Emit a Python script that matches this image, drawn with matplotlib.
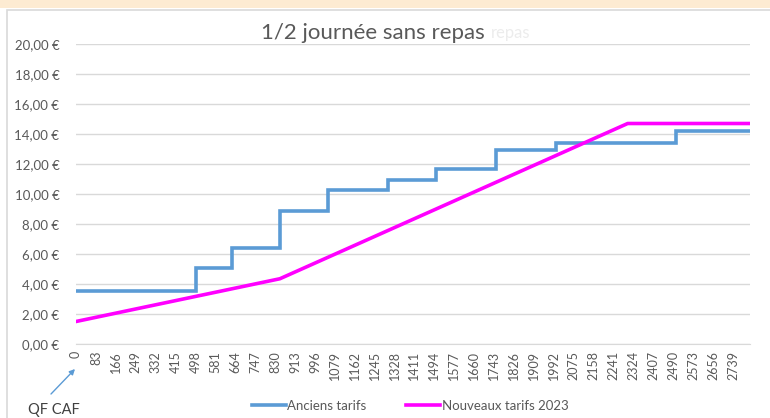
import numpy as np
import matplotlib
matplotlib.use("Agg")
import matplotlib.pyplot as plt
from matplotlib.patches import Rectangle

# Tarifs 1/2 journée sans repas selon le quotient familial CAF

# Anciens tarifs : paliers (seuil QF -> tarif)
qf_anciens = [0, 500, 650, 850, 1050, 1300, 1500, 1750, 2000, 2500, 2810]
tarifs_anciens = [3.55, 5.05, 6.40, 8.90, 10.25, 10.95, 11.65, 12.95, 13.40, 14.20, 14.20]

# Nouveaux tarifs 2023 : lineaire par morceaux
qf_nouveaux = [0, 850, 2300, 2810]
tarifs_nouveaux = [1.50, 4.35, 14.70, 14.70]

x_ticks = list(range(0, 2740, 83))
y_ticks = [0, 2, 4, 6, 8, 10, 12, 14, 16, 18, 20]

plt.rcParams['font.family'] = ['Lato', 'DejaVu Sans']
txt_color = "#595959"

W, H = 770, 418
fig = plt.figure(figsize=(W / 100, H / 100), dpi=100)

# bandeau beige en haut + cadre du graphique
fig.patches.append(Rectangle((0, 1 - 8 / H), 1, 8 / H, transform=fig.transFigure,
                             facecolor="#fdebd2", edgecolor="none", zorder=-3))
fig.patches.append(Rectangle((7 / W, -0.1), 1.2, 1.1 - 10 / H, transform=fig.transFigure,
                             facecolor="white", edgecolor="#d9d9d9", lw=1.2, zorder=-2))

ax = fig.add_axes([76 / W, 1 - 344 / H, (750 - 76) / W, 300 / H])

ax.plot(qf_anciens, tarifs_anciens, drawstyle="steps-post", color="#5b9bd5",
        lw=2.6, label="Anciens tarifs", solid_joinstyle="miter")
ax.plot(qf_nouveaux, tarifs_nouveaux, color="#ff00ff", lw=2.6,
        label="Nouveaux tarifs 2023")

ax.set_xlim(0, 2810)
ax.set_ylim(0, 20)
ax.set_yticks(y_ticks)
ax.set_yticklabels([f"{v:.2f} €".replace(".", ",") for v in y_ticks],
                   fontsize=9.5, color=txt_color)
ax.set_xticks(x_ticks)
ax.set_xticklabels([str(v) for v in x_ticks], rotation=90, fontsize=9,
                   color=txt_color)
ax.tick_params(length=0)
ax.tick_params(axis="y", pad=12)
ax.tick_params(axis="x", pad=5)
ax.grid(axis="y", color="#d9d9d9", lw=1)
ax.set_axisbelow(True)
for s in ["top", "right", "left"]:
    ax.spines[s].set_visible(False)
ax.spines["bottom"].set_color("#d9d9d9")

# titre (avec reste fantome "repas")
fig.text(373 / W, 1 - 33 / H, "1/2 journée sans repas", ha="center", va="center",
         fontsize=16, color=txt_color,
         bbox=dict(facecolor="white", edgecolor="none", pad=1))
fig.text(491 / W, 1 - 33 / H, "repas", ha="left", va="center",
         fontsize=12, color="#ececec")

# annotation QF CAF
fig.text(54 / W, 1 - 410 / H, "QF CAF", ha="center", va="center",
         fontsize=10.5, color="#404040")
ax.annotate("", xy=(75 / W, 1 - 369 / H), xycoords="figure fraction",
            xytext=(51 / W, 1 - 394 / H), textcoords="figure fraction",
            arrowprops=dict(arrowstyle="-|>", color="#5b9bd5", lw=1,
                            shrinkA=0, shrinkB=0, mutation_scale=8))

fig.legend(loc="center", bbox_to_anchor=(410 / W, 1 - 406 / H), ncol=2,
           frameon=False, fontsize=9.5, handlelength=2.6, handletextpad=0.1,
           columnspacing=3.0, labelcolor=txt_color)

fig.savefig("out.png", dpi=100)
